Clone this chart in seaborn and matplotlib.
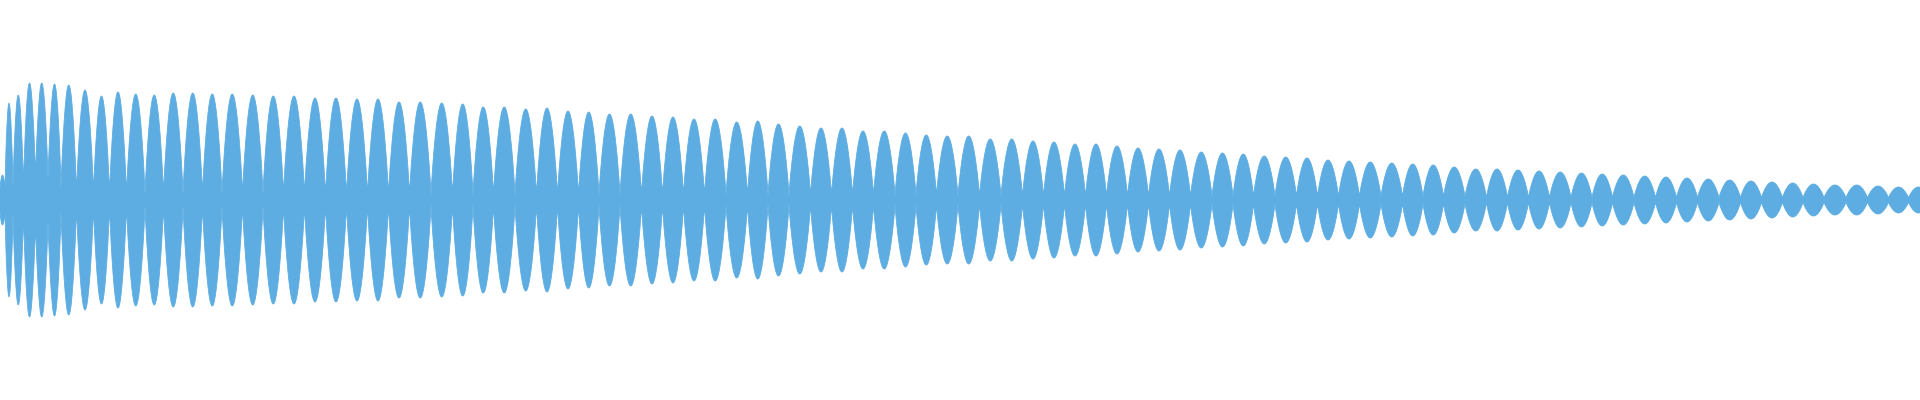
import numpy as np
import pandas as pd
import matplotlib
matplotlib.use("Agg")
import matplotlib.pyplot as plt
import seaborn as sns

# Waveform: one entry per lobe of the beat envelope.
# lobe_pos = where each lobe peaks (sample column), lobe_peak = its peak level,
# gap_level = level left between two lobes (one more entry than lobes).
lobe_pos = [2, 8, 18, 29, 42, 54, 68, 85, 102, 117, 136, 154, 173, 193, 212, 232, 253, 273, 294, 315,
            336, 357, 378, 399, 420, 442, 463, 483, 504, 526, 547, 568, 589, 609, 631,
            652, 673, 694, 715, 737, 758, 778, 800, 821, 842, 863, 884, 906, 926, 947,
            969, 990, 1012, 1033, 1054, 1075, 1096, 1117, 1138, 1159, 1180, 1201, 1223, 1243, 1264,
            1286, 1307, 1328, 1349, 1370, 1392, 1413, 1433, 1454, 1476, 1497, 1518, 1539, 1560, 1582,
            1602, 1623, 1645, 1666, 1687, 1708, 1730, 1751, 1772, 1793, 1813, 1835, 1857, 1878, 1899, 1918]

lobe_peak = [25, 97, 105, 117, 117, 116, 115, 110, 104, 108, 106, 105, 107, 107, 106, 106, 105, 104, 104, 102,
             102, 101, 101, 98, 98, 97, 96, 93, 93, 91, 92, 89, 88, 86, 86,
             84, 83, 81, 81, 78, 79, 76, 74, 72, 72, 69, 69, 67, 65, 64,
             64, 61, 61, 59, 58, 56, 56, 54, 52, 51, 50, 48, 47, 46, 44,
             43, 42, 40, 39, 38, 37, 36, 35, 33, 31, 31, 30, 29, 28, 27,
             26, 25, 24, 23, 22, 21, 20, 19, 18, 17, 16, 15, 15, 14, 13, 13]

gap_level = [12, 12, 13, 13, 22, 20, 11, 6, 6, 5, 5, 5, 5, 5, 5, 5, 5, 5, 5, 5,
             4, 4, 4, 4, 4, 4, 4, 4, 4, 4, 4, 4, 4, 4, 4, 4, 4, 4, 4, 4,
             4, 4, 4, 4, 4, 4, 4, 4, 4, 4, 3, 3, 3, 3, 3, 3, 3, 3, 3, 3,
             3, 3, 3, 3, 3, 3, 3, 3, 3, 3, 3, 3, 3, 3, 3, 2, 2, 2, 2, 2,
             2, 2, 2, 2, 2, 2, 2, 2, 2, 2, 2, 2, 2, 2, 2, 2, 2]

wave_color = "#5dade2"
n_samples = 1920
lobe_fullness = 0.82   # <1 makes the lobes a bit rounder, tips stay pointed

assert len(lobe_pos) == len(lobe_peak) == len(gap_level) - 1

# lobe edges sit half way between neighbouring peaks
pos = np.array(lobe_pos, dtype=float)
edges = np.concatenate([[0.0], (pos[:-1] + pos[1:]) / 2, [pos[-1] + 10.5]])

# build the envelope column by column, each lobe drawn as a lens
cols = np.arange(0, n_samples + 1, 0.5)
env = np.zeros_like(cols)
for i, peak in enumerate(lobe_peak):
    a, b = edges[i], edges[i + 1]
    m = (cols >= a) & (cols < b)
    t = (cols[m] - a) / (b - a)
    base = gap_level[i] + (gap_level[i + 1] - gap_level[i]) * t
    env[m] = base + (peak - base) * np.sin(np.pi * t) ** lobe_fullness

wave = pd.DataFrame({"sample": cols, "upper": env, "lower": -env})

sns.set_theme(style="white")
fig = plt.figure(figsize=(19.2, 4), dpi=100)
ax = fig.add_axes([0, 0, 1, 1])

ax.fill_between(wave["sample"], wave["lower"], wave["upper"], color=wave_color, linewidth=0)
sns.lineplot(data=wave, x="sample", y="upper", ax=ax, color=wave_color, linewidth=0.6, estimator=None)
sns.lineplot(data=wave, x="sample", y="lower", ax=ax, color=wave_color, linewidth=0.6, estimator=None)

ax.set_xlim(0, n_samples)
ax.set_ylim(-200, 200)
ax.set_axis_off()

fig.savefig("out.png", dpi=100, facecolor="white")
